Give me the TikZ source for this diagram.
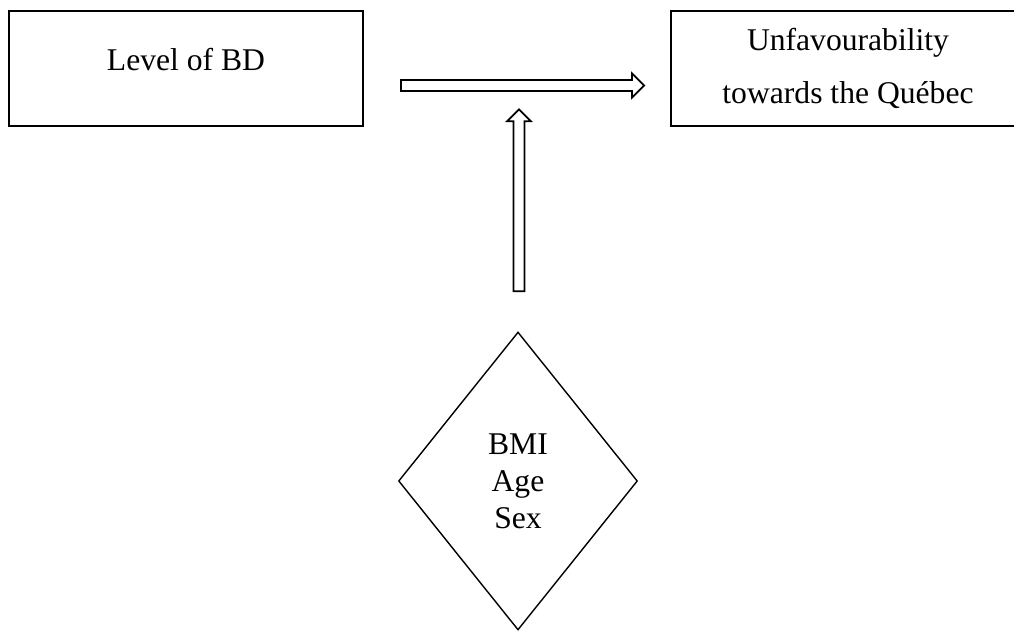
\documentclass[tikz,border=0pt]{standalone}
\usepackage{fontspec}
\setmainfont{Liberation Serif}
\usetikzlibrary{shapes.geometric, calc}
\begin{document}
\begin{tikzpicture}[x = 0.02cm, y = -0.02cm,
   box/.style = {draw, line width = 1.1pt, minimum width = 7.08cm, minimum height = 2.3cm,
                 inner sep = 0pt, align = center, font = \fontsize{18pt}{30pt}\selectfont},
   covar/.style = {diamond, draw, line width = 0.8pt, minimum width = 4.78cm, minimum height = 5.96cm,
                   inner sep = 0pt, align = center, font = \fontsize{18pt}{21pt}\selectfont},
   fat/.style = {draw, line width = 1pt, line join = miter}]
\useasboundingbox (0,0) rectangle (1014,631);

\node[box, text depth = 0.37cm] (bd) at (186, 68.5) {Level of BD};
\node[box] (unfav) at (848, 68.5) {Unfavourability\\towards the Québec};
\node[covar] (covars) at (518, 481) {BMI\\Age\\Sex};

\coordinate (hstart) at ($(bd.east) + (37,17)$);
\coordinate (hend) at ($(unfav.west) + (-26,17)$);
\coordinate (vstart) at ($(covars.north) + (1,-40)$);
\coordinate (vend) at ($(covars.north) + (1,-222)$);

% hollow block arrows
\foreach \s/\t in {hstart/hend, vstart/vend}{
   \coordinate (base) at ($(\t)!0.24cm!(\s)$);
   \draw[fat] ($(\s)!0.11cm!90:(\t)$) -- ($(base)!0.11cm!90:(\t)$) -- ($(base)!0.24cm!90:(\t)$)
      -- (\t) -- ($(base)!0.24cm!-90:(\t)$) -- ($(base)!0.11cm!-90:(\t)$) -- ($(\s)!0.11cm!-90:(\t)$) -- cycle;
   }
\end{tikzpicture}
\end{document}
